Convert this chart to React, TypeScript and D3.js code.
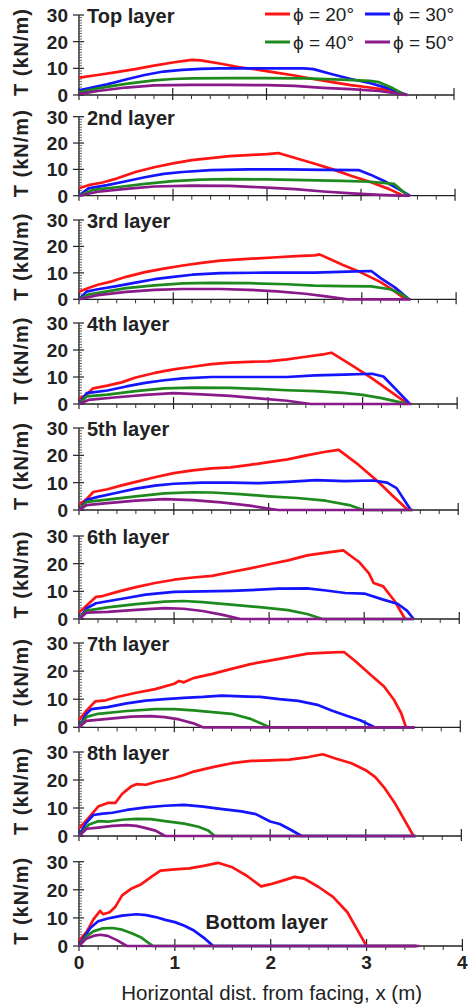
import React from "react";
import * as d3 from "d3";

type Pt = [number, number];

const layerLabels = ["Top layer", "2nd layer", "3rd layer", "4th layer", "5th layer", "6th layer", "7th layer", "8th layer", "Bottom layer"];
const phiLabels = ["20", "30", "40", "50"];
const seriesColors = ["#ff1414", "#1414ff", "#1e8a1e", "#8a1a8a"];
const xTicks = [0, 1, 2, 3, 4];
const yTicks = [0, 10, 20, 30];

// Top layer
const L1_20: Pt[] = [[0,6.5],[0.2,7.5],[0.4,8.6],[0.6,9.7],[0.8,11],[1.0,12.2],[1.2,13.2],[1.3,13],[1.5,11.8],[1.7,10.5],[1.9,9.5],[2.1,8.4],[2.3,7.3],[2.5,6],[2.7,4.8],[2.9,3.7],[3.1,2.8],[3.3,1.8],[3.5,0]];
const L1_30: Pt[] = [[0,1.8],[0.1,2.5],[0.3,4],[0.5,5.8],[0.7,7.5],[0.9,8.8],[1.1,9.4],[1.3,9.8],[1.5,10],[1.8,10],[2.1,10],[2.4,10],[2.5,9.7],[2.7,7.8],[2.9,6],[3.1,4.5],[3.3,2.5],[3.5,0]];
const L1_40: Pt[] = [[0,1],[0.2,2.5],[0.5,4.2],[0.8,5.5],[1.0,6],[1.2,6.2],[1.6,6.3],[2.0,6.3],[2.4,6.2],[2.8,5.8],[3.1,5.3],[3.2,4.8],[3.35,2.5],[3.48,0]];
const L1_50: Pt[] = [[0,0.3],[0.2,1.5],[0.5,2.8],[0.8,3.6],[1.2,3.8],[1.6,3.8],[2.0,3.7],[2.3,3.4],[2.6,2.7],[2.9,2.2],[3.2,1.5],[3.5,0]];
// 2nd layer
const L2_20: Pt[] = [[0,2.8],[0.1,4],[0.25,5],[0.4,6.5],[0.6,9],[0.8,10.8],[1.0,12.3],[1.2,13.5],[1.4,14.3],[1.6,15],[1.8,15.4],[2.0,15.8],[2.12,16.2],[2.3,14.3],[2.5,12.2],[2.7,10],[2.9,7.5],[3.1,5.2],[3.3,2.5],[3.45,0]];
const L2_30: Pt[] = [[0,0],[0.1,2.8],[0.3,4],[0.5,5.5],[0.7,7],[0.9,8.3],[1.1,9],[1.4,9.7],[1.8,10],[2.2,10],[2.6,9.8],[2.98,9.7],[3.1,8],[3.25,5.5],[3.4,2.5],[3.52,0]];
const L2_40: Pt[] = [[0,0],[0.15,2.2],[0.4,3.2],[0.7,4.5],[1.0,5.5],[1.3,6.1],[1.6,6.3],[2.0,6.2],[2.4,5.9],[2.8,5.6],[3.1,5.3],[3.35,4.5],[3.45,1.5],[3.5,0]];
const L2_50: Pt[] = [[0,0],[0.2,1.5],[0.5,2.6],[0.8,3.5],[1.2,3.8],[1.6,3.7],[2.0,3.1],[2.3,2.5],[2.6,1.6],[2.9,0.9],[3.2,0.3],[3.4,0],[3.52,0]];
// 3rd layer
const L3_20: Pt[] = [[0,2.9],[0.1,4.3],[0.2,5.5],[0.35,6.8],[0.5,8.5],[0.7,10.3],[0.9,11.6],[1.1,12.8],[1.3,13.8],[1.5,14.6],[1.7,15.1],[1.9,15.5],[2.1,15.9],[2.3,16.3],[2.5,16.6],[2.55,17],[2.8,13],[3.0,10],[3.2,6.5],[3.35,3],[3.46,0]];
const L3_30: Pt[] = [[0,0],[0.08,2.9],[0.2,3.8],[0.4,5],[0.6,6.3],[0.8,7.6],[1.0,8.5],[1.2,9.3],[1.5,9.9],[2.0,10.1],[2.5,10.1],[2.85,10.5],[3.1,10.7],[3.2,8],[3.35,4.5],[3.5,0]];
const L3_40: Pt[] = [[0,0],[0.1,1.8],[0.3,3],[0.5,4.2],[0.8,5.3],[1.1,6],[1.4,6.2],[1.8,6.1],[2.2,5.7],[2.5,5.2],[2.8,5],[3.1,4.9],[3.3,3.8],[3.42,2],[3.5,0]];
const L3_50: Pt[] = [[0,0],[0.2,1.6],[0.5,2.8],[0.8,3.6],[1.1,3.9],[1.5,3.9],[1.8,3.6],[2.1,3],[2.4,2.1],[2.6,1.2],[2.85,0],[3.52,0]];
// 4th layer
const L4_20: Pt[] = [[0,1.9],[0.08,3.5],[0.15,5.8],[0.3,6.8],[0.45,8],[0.6,9.8],[0.8,11.5],[1.0,12.8],[1.2,13.8],[1.4,14.8],[1.6,15.3],[1.8,15.6],[2.0,15.8],[2.2,16.5],[2.4,17.5],[2.6,18.5],[2.67,19],[2.9,14],[3.1,9.5],[3.3,4.5],[3.48,0]];
const L4_30: Pt[] = [[0,0],[0.08,4],[0.3,5],[0.5,6.5],[0.7,7.8],[0.9,8.8],[1.1,9.5],[1.4,10],[1.8,10],[2.2,10],[2.5,10.6],[2.8,10.9],[3.1,11.2],[3.22,10.2],[3.35,5.5],[3.5,0]];
const L4_40: Pt[] = [[0,0],[0.08,2.8],[0.3,3.5],[0.6,4.8],[0.9,5.8],[1.2,6.1],[1.6,6],[1.9,5.6],[2.2,5.1],[2.5,4.8],[2.8,4.1],[3.0,3.4],[3.2,2.2],[3.4,0.6],[3.48,0]];
const L4_50: Pt[] = [[0,0],[0.1,1.5],[0.4,2.5],[0.7,3.4],[1.0,4],[1.3,3.6],[1.6,3],[1.9,2.1],[2.2,1.2],[2.45,0],[3.52,0]];
// 5th layer
const L5_20: Pt[] = [[0,1.9],[0.08,4],[0.15,6.6],[0.3,7.6],[0.45,9],[0.6,10.3],[0.8,12],[1.0,13.5],[1.2,14.5],[1.4,15.2],[1.6,15.6],[1.8,16.5],[2.0,17.5],[2.2,18.5],[2.4,20],[2.6,21.3],[2.74,22],[2.95,16.5],[3.15,10.5],[3.3,5.5],[3.47,0]];
const L5_30: Pt[] = [[0,0],[0.08,3.7],[0.2,4.8],[0.4,6.3],[0.6,7.8],[0.8,8.9],[1.0,9.6],[1.3,10],[1.6,10],[1.9,9.8],[2.2,10.3],[2.5,10.9],[2.8,10.6],[3.1,10.8],[3.25,10],[3.35,8],[3.5,0]];
const L5_40: Pt[] = [[0,0],[0.08,3],[0.3,3.8],[0.6,5],[0.9,6.1],[1.2,6.5],[1.4,6.4],[1.7,5.8],[2.0,5],[2.3,4.4],[2.6,3.4],[2.85,1.8],[3.0,0],[3.52,0]];
const L5_50: Pt[] = [[0,0],[0.08,1.8],[0.3,2.5],[0.6,3.4],[0.9,4],[1.2,3.6],[1.5,2.8],[1.8,1.6],[1.98,0.6],[2.1,0],[3.52,0]];
// 6th layer
const L6_20: Pt[] = [[0,2.3],[0.1,5.5],[0.18,8],[0.25,8.3],[0.4,9.8],[0.6,11.5],[0.8,13],[1.0,14.2],[1.2,15],[1.4,15.6],[1.6,17],[1.8,18.3],[2.0,19.8],[2.2,21.2],[2.4,23],[2.6,24],[2.78,24.8],[2.95,20.5],[3.05,16.5],[3.1,13],[3.2,11.8],[3.32,6.5],[3.43,0]];
const L6_30: Pt[] = [[0,0],[0.08,3.9],[0.18,5.7],[0.3,6.4],[0.5,7.6],[0.7,8.8],[1.0,9.8],[1.3,10],[1.6,10.2],[1.9,10.6],[2.1,11],[2.4,11.1],[2.6,10.3],[2.8,9.4],[3.0,9.2],[3.2,7],[3.35,5.5],[3.45,3],[3.52,0]];
const L6_40: Pt[] = [[0,0],[0.08,3],[0.3,4.2],[0.6,5.4],[0.9,6.3],[1.1,6.5],[1.3,6.1],[1.6,5.2],[1.9,4.3],[2.2,3.2],[2.4,1.8],[2.56,0],[3.52,0]];
const L6_50: Pt[] = [[0,0],[0.08,2.3],[0.3,2.6],[0.6,3.3],[0.9,3.9],[1.1,3.7],[1.3,2.9],[1.5,1.6],[1.7,0],[3.52,0]];
// 7th layer
const L7_20: Pt[] = [[0,2.5],[0.08,6],[0.17,9.2],[0.28,9.6],[0.4,10.8],[0.6,12.3],[0.8,13.6],[1.0,15.5],[1.05,16.5],[1.1,16],[1.2,17.5],[1.4,19],[1.6,20.8],[1.8,22.5],[2.0,23.7],[2.2,25],[2.4,26.2],[2.6,26.6],[2.78,26.8],[2.9,23.5],[3.05,19],[3.2,14.5],[3.3,10],[3.38,5],[3.43,0]];
const L7_30: Pt[] = [[0,0],[0.07,4.5],[0.13,6.5],[0.3,7.2],[0.5,8.5],[0.7,9.5],[0.9,10],[1.1,10.5],[1.3,10.8],[1.5,11.3],[1.7,11],[1.9,10.8],[2.1,10],[2.3,9.4],[2.5,8],[2.65,6],[2.8,4.2],[2.95,2.5],[3.1,0],[3.52,0]];
const L7_40: Pt[] = [[0,0],[0.08,3.7],[0.2,4.8],[0.5,5.8],[0.8,6.5],[1.0,6.5],[1.2,6],[1.4,5.4],[1.6,4.8],[1.8,3],[1.9,1.5],[2.0,0],[3.52,0]];
const L7_50: Pt[] = [[0,0],[0.08,2.3],[0.3,3],[0.55,3.8],[0.75,4],[0.9,3.6],[1.05,2.8],[1.2,1.4],[1.3,0],[3.52,0]];
// 8th layer
const L8_20: Pt[] = [[0,2.7],[0.1,6.5],[0.2,10.5],[0.3,11.8],[0.38,11.8],[0.45,15],[0.55,17.8],[0.6,18.5],[0.7,18.3],[0.8,19.3],[0.9,20],[1.0,20.8],[1.1,21.8],[1.2,23],[1.4,24.6],[1.6,26],[1.8,26.8],[2.0,27],[2.2,27.3],[2.4,28.2],[2.55,29.2],[2.7,27.5],[2.85,26],[3.0,23.5],[3.1,21],[3.2,17],[3.3,12],[3.4,6],[3.5,0]];
const L8_30: Pt[] = [[0,0],[0.07,4.5],[0.15,7.5],[0.25,8],[0.35,8.3],[0.5,9.3],[0.7,10.2],[0.9,10.8],[1.1,11.1],[1.3,10.5],[1.5,9.6],[1.7,8.8],[1.85,7.8],[2.0,5.2],[2.1,4.3],[2.2,2.5],[2.33,0],[3.52,0]];
const L8_40: Pt[] = [[0,0],[0.1,4],[0.2,5.3],[0.3,5.1],[0.45,5.8],[0.6,6.1],[0.75,6],[0.9,5.3],[1.1,4.4],[1.25,3.3],[1.35,2],[1.42,0],[3.52,0]];
const L8_50: Pt[] = [[0,0],[0.08,2.6],[0.2,3],[0.35,3.6],[0.5,3.9],[0.6,3.6],[0.7,2.8],[0.8,1.9],[0.9,0],[3.52,0]];
// Bottom layer
const L9_20: Pt[] = [[0,1.9],[0.08,5],[0.15,9.5],[0.22,12.5],[0.25,11.3],[0.32,12],[0.38,14],[0.45,18],[0.55,20.5],[0.65,22],[0.75,24.5],[0.85,26.8],[1.0,27.3],[1.15,27.6],[1.3,28.5],[1.45,29.6],[1.6,28],[1.75,25],[1.9,21.2],[2.0,22],[2.1,23],[2.25,24.6],[2.35,24],[2.5,21],[2.65,17.5],[2.8,12],[2.9,6],[3.0,0],[3.52,0]];
const L9_30: Pt[] = [[0,0],[0.06,3.5],[0.12,6.5],[0.2,8.8],[0.3,9.8],[0.45,10.8],[0.6,11.3],[0.7,11],[0.8,10.3],[0.9,9.3],[1.0,8.5],[1.1,7.2],[1.2,5.5],[1.3,3],[1.4,0],[3.52,0]];
const L9_40: Pt[] = [[0,0],[0.08,3.5],[0.15,5.2],[0.25,6.3],[0.35,6.4],[0.45,5.8],[0.55,4.5],[0.65,3],[0.77,0],[3.52,0]];
const L9_50: Pt[] = [[0,0],[0.07,2.5],[0.15,3.6],[0.22,4],[0.3,3.6],[0.4,2],[0.5,0],[3.55,0]];

const layers: Pt[][][] = [
  [L1_20, L1_30, L1_40, L1_50],
  [L2_20, L2_30, L2_40, L2_50],
  [L3_20, L3_30, L3_40, L3_50],
  [L4_20, L4_30, L4_40, L4_50],
  [L5_20, L5_30, L5_40, L5_50],
  [L6_20, L6_30, L6_40, L6_50],
  [L7_20, L7_30, L7_40, L7_50],
  [L8_20, L8_30, L8_40, L8_50],
  [L9_20, L9_30, L9_40, L9_50],
];

// layout (pixel positions of the panels in the figure)
const W = 468, H = 1007;
const PANEL_ZERO = [95, 195.7, 299.3, 404, 510, 619, 727.3, 836, 946];
const PANEL_TOP = [15, 116.7, 220, 323, 428, 536, 643, 752, 861.7];
const X_LEFT = 79;
const xRightFor = (i: number) => 454 + i * 1.05;

const FONT = "'Liberation Sans', Arial, Helvetica, sans-serif";

function Panel({ i }: { i: number }) {
  const x = d3.scaleLinear().domain([0, 4]).range([X_LEFT, xRightFor(i)]);
  const y = d3.scaleLinear().domain([0, 30]).range([PANEL_ZERO[i], PANEL_TOP[i]]);
  const line = d3.line<Pt>().x(d => x(d[0])).y(d => y(d[1])).curve(d3.curveLinear);
  const xMinor = d3.range(0, 4.0001, 0.2).filter(v => Math.abs(v - Math.round(v)) > 1e-6);
  const yMinor = d3.range(0, 30.0001, 1).filter(v => v % 10 !== 0);
  const isBottom = i === layers.length - 1;
  const mid = (PANEL_ZERO[i] + PANEL_TOP[i]) / 2;
  return (
    <g>
      {/* axes */}
      <line x1={x(0)} x2={x(4)} y1={y(0)} y2={y(0)} stroke="#222" strokeWidth={1.3} />
      <line x1={x(0)} x2={x(0)} y1={y(0)} y2={y(30)} stroke="#222" strokeWidth={1.3} />
      {xTicks.map(t => (
        <line key={"xt" + t} x1={x(t)} x2={x(t)} y1={y(0) - 7} y2={y(0) + 5} stroke="#222" strokeWidth={1.2} />
      ))}
      {xMinor.map(t => (
        <line key={"xm" + t} x1={x(t)} x2={x(t)} y1={y(0)} y2={y(0) + 4} stroke="#333" strokeWidth={1} />
      ))}
      {yTicks.map(t => (
        <line key={"yt" + t} x1={x(0) - 6} x2={x(0) + 5} y1={y(t)} y2={y(t)} stroke="#222" strokeWidth={1.2} />
      ))}
      {yMinor.map(t => (
        <line key={"ym" + t} x1={x(0) - 1} x2={x(0) + 3} y1={y(t)} y2={y(t)} stroke="#444" strokeWidth={0.8} />
      ))}
      {yTicks.map(t => (
        <text key={"yl" + t} x={x(0) - 11} y={y(t)} dy="0.36em" textAnchor="end" fontFamily={FONT} fontWeight="bold" fontSize={19} fill="#222">{t}</text>
      ))}
      <text transform={`translate(21,${mid - 3}) rotate(-90)`} textAnchor="middle" dy="0.36em" fontFamily={FONT} fontWeight="bold" fontSize={20} letterSpacing={1} fill="#222">T (kN/m)</text>
      {/* series */}
      {layers[i].map((s, k) => (
        <path key={"s" + k} d={line(s) || ""} fill="none" stroke={seriesColors[k]} strokeWidth={2.7} strokeLinejoin="round" />
      ))}
      {/* layer label */}
      {isBottom ? (
        <text x={x(1.32)} y={y(8.5)} dy="0.36em" fontFamily={FONT} fontWeight="bold" fontSize={20} fill="#222">{layerLabels[i]}</text>
      ) : (
        <text x={87} y={y(30) + 1} dy="0.36em" fontFamily={FONT} fontWeight="bold" fontSize={20} fill="#222">{layerLabels[i]}</text>
      )}
      {isBottom && xTicks.map(t => (
        <text key={"xl" + t} x={x(t)} y={y(0) + 23} textAnchor="middle" fontFamily={FONT} fontWeight="bold" fontSize={19} fill="#222">{t}</text>
      ))}
    </g>
  );
}

export default function App() {
  const legendPos = [[265, 14], [365, 14], [265, 42], [365, 42]];
  return (
    <svg width={W} height={H} viewBox={`0 0 ${W} ${H}`} style={{ position: "absolute", left: 0, top: 0, background: "#fff" }}>
      <rect width={W} height={H} fill="#fff" />
      {layers.map((_, i) => <Panel key={i} i={i} />)}
      {phiLabels.map((p, k) => (
        <g key={"lg" + k} transform={`translate(${legendPos[k][0]},${legendPos[k][1]})`}>
          <line x1={0} x2={25} y1={0} y2={0} stroke={seriesColors[k]} strokeWidth={3} />
          <text x={28} y={0} dy="0.36em" fontFamily={FONT} fontSize={19} fill="#222">{"\u03D5 = " + p + "\u00B0"}</text>
        </g>
      ))}
      <text x={(X_LEFT + xRightFor(8)) / 2 + 1} y={1000} textAnchor="middle" fontFamily={FONT} fontSize={20.5} fill="#222">Horizontal dist. from facing, x (m)</text>
    </svg>
  );
}
